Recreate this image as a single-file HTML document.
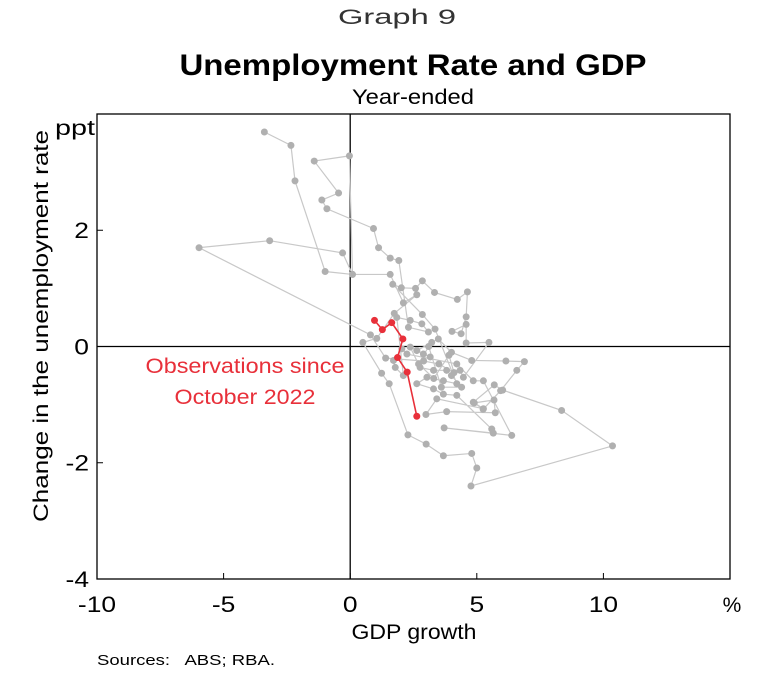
<!DOCTYPE html>
<html><head><meta charset="utf-8"><style>
body{margin:0;background:#fff;width:767px;height:672px;overflow:hidden;font-family:"Liberation Sans",Arial,sans-serif}
svg text{font-family:"Liberation Sans",Arial,sans-serif}
</style></head><body>
<svg id="chart" width="767" height="672">
<text x="397" y="24" font-size="21" text-anchor="middle" fill="#333" textLength="118" lengthAdjust="spacingAndGlyphs">Graph 9</text>
<text x="413" y="75" font-size="30" font-weight="bold" text-anchor="middle" fill="#000" textLength="467" lengthAdjust="spacingAndGlyphs">Unemployment Rate and GDP</text>
<text x="413" y="104" font-size="21" text-anchor="middle" fill="#000" textLength="122" lengthAdjust="spacingAndGlyphs">Year-ended</text>
<text x="75" y="135" font-size="21" text-anchor="middle" textLength="40" lengthAdjust="spacingAndGlyphs">ppt</text>
<text x="732" y="612" font-size="21" text-anchor="middle">%</text>
<text transform="translate(48,326) rotate(-90)" font-size="21" text-anchor="middle" textLength="392" lengthAdjust="spacingAndGlyphs">Change in the unemployment rate</text>
<text x="414" y="639" font-size="21" text-anchor="middle" textLength="125" lengthAdjust="spacingAndGlyphs">GDP growth</text>
<text x="97" y="665" font-size="15" textLength="178" lengthAdjust="spacingAndGlyphs">Sources:&#160;&#160; ABS; RBA.</text>
<text x="245" y="373" font-size="21" text-anchor="middle" fill="#e8303a" textLength="199" lengthAdjust="spacingAndGlyphs">Observations since</text>
<text x="245" y="404" font-size="21" text-anchor="middle" fill="#e8303a" textLength="141" lengthAdjust="spacingAndGlyphs">October 2022</text>
<g id="axes"></g>
<g id="marks"></g>
</svg>
<script>
const xTicks=[-10,-5,0,5,10];
const yTicks=[-4,-2,0,2];
const grayX=[-3.39,-2.34,-2.18,-0.99,0.09,1.58,2.10,2.63,1.74,1.05,0.50,1.24,1.54,2.28,3.00,3.68,4.80,5.00,4.77,10.36,8.35,6.02,5.69,4.86,5.26,3.42,2.99,3.81,5.73,5.68,4.90,5.25,5.94,6.58,6.88,6.15,4.80,4.00,3.48,3.22,2.63,2.89,3.16,2.37,2.76,3.29,3.81,4.34,4.47,5.48,4.58,4.58,4.02,4.38,4.58,4.63,4.23,3.33,2.85,2.58,2.02,1.68,2.85,3.35,4.21,3.68,3.03,2.63,3.29,3.68,4.21,5.59,5.65,3.71,6.38,5.26,4.86,4.21,2.24,2.04,1.71,1.78,2.10,1.84,2.37,2.83,3.09,2.30,1.92,1.58,1.12,0.92,-0.92,-1.12,-0.46,-1.42,-0.03,0.09,-0.30,-3.18,-5.97,0.80,1.40,2.9,3.5,4.1,3.9,3.3,2.7,3.1,3.6,4.4,4.0];
const grayY=[3.69,3.46,2.85,1.29,1.24,1.24,0.75,0.89,0.57,0.14,0.07,-0.46,-0.64,-1.52,-1.68,-1.88,-1.84,-2.09,-2.40,-1.71,-1.10,-0.75,-0.66,-0.96,-1.07,-0.90,-1.17,-1.12,-1.14,-0.92,-0.97,-1.08,-0.76,-0.41,-0.26,-0.25,-0.24,-0.10,0.13,0.07,-0.07,-0.13,-0.18,-0.01,-0.36,-0.41,-0.41,-0.41,-0.53,0.07,0.06,0.38,0.26,0.22,0.51,0.94,0.81,0.93,1.13,1.00,1.01,1.07,0.55,0.30,-0.64,-0.59,-0.53,-0.64,-0.73,-0.82,-0.84,-1.42,-1.49,-1.40,-1.53,-0.59,-0.59,-0.30,-0.13,-0.04,-0.24,-0.36,-0.50,0.50,0.45,0.39,0.25,0.33,1.48,1.52,1.70,2.03,2.37,2.52,2.64,3.19,3.28,1.24,1.61,1.82,1.70,0.20,-0.20,-0.25,-0.30,-0.45,-0.15,-0.55,-0.30,0.00,-0.70,-0.70,-0.50];
const redX=[0.96,1.27,1.64,2.08,1.87,2.25,2.63];
const redY=[0.45,0.29,0.41,0.13,-0.19,-0.44,-1.20];
const L=97,R=730,T=114,B=579;
const sx=v=>L+(v+10)*(R-L)/25;
const sy=v=>B-(v+4)*(B-T)/8;
const NS='http://www.w3.org/2000/svg';
function mk(tag,attrs,parent){const e=document.createElementNS(NS,tag);for(const k in attrs)e.setAttribute(k,attrs[k]);parent.appendChild(e);return e;}
const ax=document.getElementById('axes'),mg=document.getElementById('marks');
let fr=mk('rect',{x:L,y:T,width:R-L,height:B-T,fill:'none',stroke:'#000','stroke-width':1.3},ax);


let zx=mk('line',{x1:sx(0),x2:sx(0),y1:T,y2:B,stroke:'#000','stroke-width':1.3},ax);


let zy=mk('line',{x1:L,x2:R,y1:sy(0),y2:sy(0),stroke:'#000','stroke-width':1.3},ax);


xTicks.forEach(v=>{
 let t=mk('line',{x1:sx(v),x2:sx(v),y1:B,y2:B-6,stroke:'#000'},ax);
 
 
 let tx=mk('text',{x:sx(v),y:B+33,'font-size':22,'text-anchor':'middle',transform:'translate('+sx(v)+',0) scale(1.2,1) translate('+(-sx(v))+',0)'},ax);tx.textContent=v;
 
 
});
yTicks.forEach(v=>{
 let tx0=L-8;
 let t=mk('line',{x1:L,x2:L+6,y1:sy(v),y2:sy(v),stroke:'#000'},ax);
 
 
 let tx=mk('text',{x:tx0,y:sy(v)+8,'font-size':22,'text-anchor':'end',transform:'translate('+tx0+',0) scale(1.2,1) translate('+(-tx0)+',0)'},ax);tx.textContent=v;
 
 
});
function series(xs,ys,col,name,lw){
 let p=mk('polyline',{points:xs.map((x,i)=>sx(x)+','+sy(ys[i])).join(' '),fill:'none',stroke:col,'stroke-width':lw},mg);
 
 
 xs.forEach((x,i)=>{
  let c=mk('circle',{cx:sx(x),cy:sy(ys[i]),r:3.5,fill:col==='#c8c8c8'?'#b0b0b0':col},mg);
  
  
 });
}
series(grayX,grayY,'#c8c8c8','historical',1.2);
series(redX,redY,'#e8303a','recent',1.6);
</script>
</body></html>
